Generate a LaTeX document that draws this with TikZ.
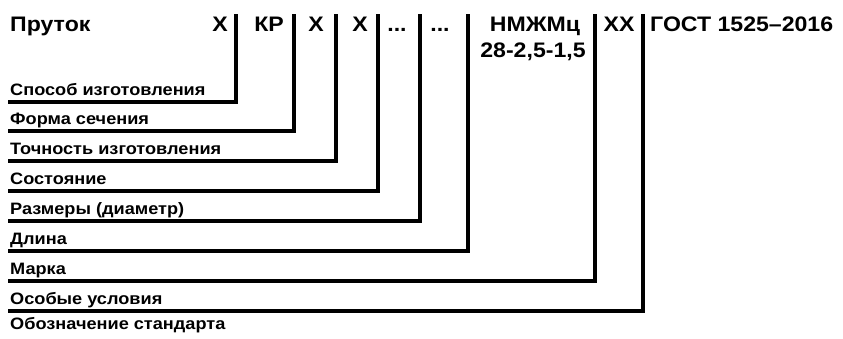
\documentclass[tikz,border=0pt]{standalone}
\usepackage{fontspec}
\newfontfamily\topfont[FakeStretch=1.1]{Liberation Sans Bold}
\newfontfamily\labfont[FakeStretch=1.1]{Liberation Sans Bold}
\begin{document}
\begin{tikzpicture}[x=1pt,y=-1pt,
  toptext/.style={inner sep=0pt,font=\topfont\fontsize{21}{24}\selectfont},
  labtext/.style={inner sep=0pt,anchor=base west,font=\labfont\fontsize{16.5}{19}\selectfont},
  vbar/.style={line width=3.2pt}]
\useasboundingbox (0,0) rectangle (843,338);
% top row
\node[toptext,anchor=base west] (pr) at (10,31) {Пруток};
\node[toptext,anchor=base] (x1) at (220,31) {X};
\node[toptext,anchor=base] (kr) at (269,31) {КР};
\node[toptext,anchor=base] (x2) at (316,31) {X};
\node[toptext,anchor=base] (x3) at (360,31) {X};
\node[toptext,anchor=base] (d1) at (397,31) {...};
\node[toptext,anchor=base] (d2) at (440,31) {...};
\node[toptext,anchor=base] (mk) at (535,31) {НМЖМц};
\node[toptext,anchor=base] (mk2) at (533,57) {28-2,5-1,5};
\node[toptext,anchor=base] (xx) at (619,31) {XX};
\node[toptext,anchor=base west] (gost) at (650,31) {ГОСТ 1525–2016};
% vertical tops
\coordinate (t1) at (236,14);
\coordinate (t2) at (294,14);
\coordinate (t3) at (336,14);
\coordinate (t4) at (378,14);
\coordinate (t5) at (420,14);
\coordinate (t6) at (468,14);
\coordinate (t7) at (595,14);
\coordinate (t8) at (643,14);
% labels
\node[labtext] (l1) at (10,95) {Способ изготовления};
\node[labtext] (l2) at (10,124) {Форма сечения};
\node[labtext] (l3) at (10,154) {Точность изготовления};
\node[labtext] (l4) at (10,184) {Состояние};
\node[labtext] (l5) at (10,214) {Размеры (диаметр)};
\node[labtext] (l6) at (10,244) {Длина};
\node[labtext] (l7) at (10,274) {Марка};
\node[labtext] (l8) at (10,304) {Особые условия};
\node[labtext] (l9) at (10,329) {Обозначение стандарта};
% line ends
\coordinate (e1) at (8,102);
\coordinate (e2) at (8,131);
\coordinate (e3) at (8,161);
\coordinate (e4) at (8,191);
\coordinate (e5) at (8,221);
\coordinate (e6) at (8,251);
\coordinate (e7) at (8,281);
\coordinate (e8) at (8,311);
% connectors
\foreach \i in {1,...,8}{
  \draw[vbar] (t\i) |- (e\i);
}
\end{tikzpicture}
\end{document}
